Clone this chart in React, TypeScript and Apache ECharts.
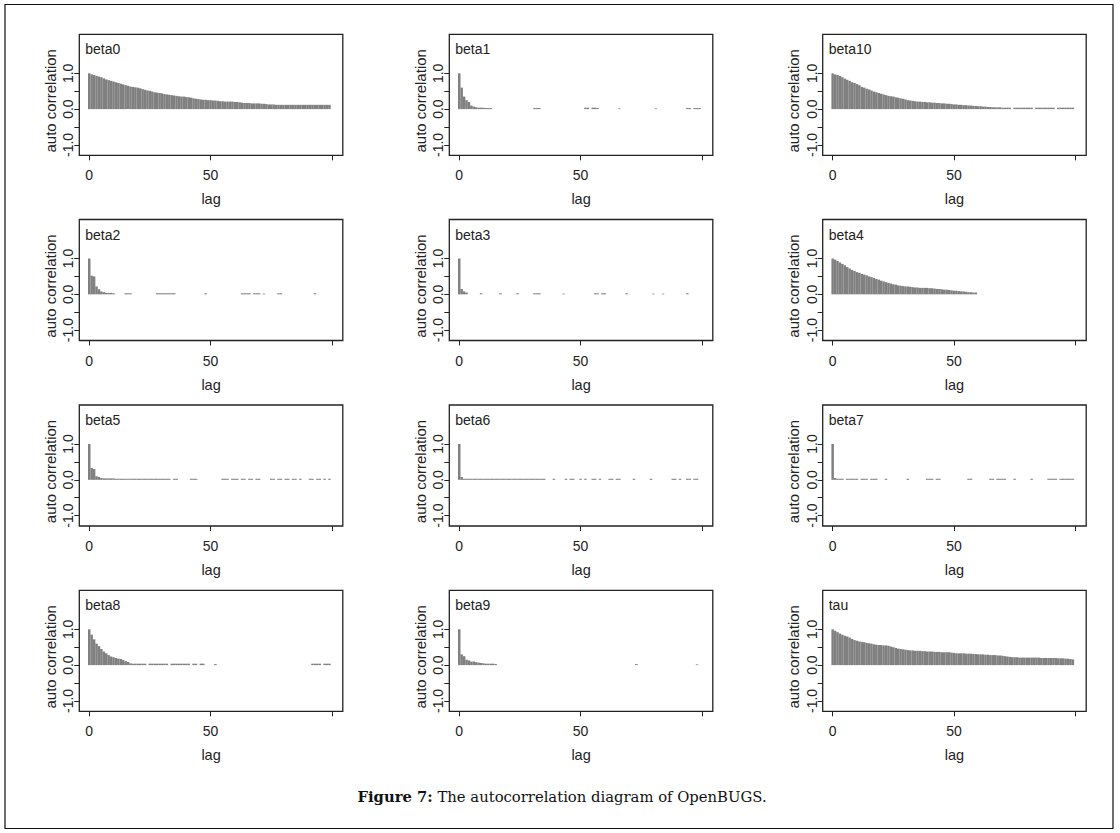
import React, { useEffect, useRef } from "react";
import * as echarts from "echarts";

// ---------------- data (lag 0..99) ----------------
const panelNames = ["beta0", "beta1", "beta10", "beta2", "beta3", "beta4", "beta5", "beta6", "beta7", "beta8", "beta9", "tau"];
const xTicks = [0, 50, 100];
const xTickLabels = [0, 50];
const yTicks = [-1, -0.5, 0, 0.5, 1];
const yTickLabels = [-1, 0, 1];
const xAxisName = "lag";
const yAxisName = "auto correlation";

const beta0 = [
  1.0, 0.97, 0.95, 0.93, 0.91, 0.89, 0.86, 0.83, 0.81, 0.79,
  0.77, 0.75, 0.73, 0.71, 0.69, 0.67, 0.65, 0.63, 0.62, 0.61,
  0.6, 0.58, 0.56, 0.54, 0.52, 0.51, 0.49, 0.47, 0.46, 0.45,
  0.44, 0.42, 0.41, 0.4, 0.39, 0.38, 0.37, 0.36, 0.35, 0.35,
  0.34, 0.33, 0.32, 0.3, 0.29, 0.28, 0.27, 0.26, 0.26, 0.25,
  0.25, 0.24, 0.24, 0.23, 0.22, 0.22, 0.21, 0.21, 0.21, 0.21,
  0.2, 0.2, 0.19, 0.18, 0.17, 0.17, 0.17, 0.16, 0.16, 0.16,
  0.16, 0.15, 0.15, 0.14, 0.13, 0.13, 0.13, 0.12, 0.12, 0.12,
  0.12, 0.12, 0.12, 0.12, 0.12, 0.12, 0.12, 0.12, 0.12, 0.12,
  0.12, 0.12, 0.12, 0.12, 0.12, 0.12, 0.12, 0.12, 0.12, 0.12,
];
const beta1 = [
  1.0, 0.6, 0.35, 0.25, 0.2, 0.1, 0.07, 0.05, 0.04, 0.04,
  0.04, 0.03, 0.03, 0.03, 0, 0, 0, 0, 0, 0,
  0, 0, 0, 0, 0, 0, 0, 0, 0, 0,
  0, 0.03, 0.03, 0.03, 0, 0, 0, 0, 0, 0,
  0, 0, 0, 0, 0, 0, 0, 0, 0, 0,
  0, 0, 0.04, 0.04, 0, 0.04, 0.04, 0.03, 0, 0,
  0, 0, 0, 0, 0, 0, 0.02, 0, 0, 0,
  0, 0, 0, 0, 0, 0, 0, 0, 0, 0,
  0, 0.02, 0, 0, 0, 0, 0, 0, 0, 0,
  0, 0, 0, 0, 0.03, 0.03, 0, 0.03, 0.03, 0.03,
];
const beta10 = [
  1.0, 0.97, 0.95, 0.93, 0.89, 0.85, 0.82, 0.79, 0.75, 0.73,
  0.7, 0.67, 0.62, 0.6, 0.57, 0.55, 0.52, 0.49, 0.47, 0.45,
  0.43, 0.41, 0.39, 0.37, 0.36, 0.35, 0.33, 0.32, 0.3, 0.29,
  0.27, 0.25, 0.24, 0.23, 0.22, 0.21, 0.21, 0.2, 0.2, 0.19,
  0.19, 0.18, 0.18, 0.17, 0.17, 0.16, 0.16, 0.15, 0.15, 0.14,
  0.13, 0.13, 0.12, 0.12, 0.11, 0.11, 0.1, 0.1, 0.09, 0.09,
  0.08, 0.08, 0.07, 0.07, 0.06, 0.06, 0.05, 0.05, 0.05, 0.05,
  0.04, 0.04, 0.04, 0.04, 0, 0.04, 0.04, 0.04, 0.04, 0.04,
  0.04, 0.04, 0.04, 0, 0.04, 0.04, 0.04, 0.04, 0.04, 0.04,
  0.04, 0.04, 0, 0.04, 0.04, 0.04, 0.04, 0.04, 0.04, 0.04,
];
const beta2 = [
  1.0, 0.52, 0.5, 0.22, 0.14, 0.08, 0.06, 0.04, 0.04, 0.04,
  0.03, 0, 0, 0, 0, 0.03, 0.03, 0.03, 0, 0,
  0, 0, 0, 0, 0, 0, 0, 0, 0.03, 0.03,
  0.03, 0.03, 0.03, 0.03, 0.03, 0.03, 0, 0, 0, 0,
  0, 0, 0, 0, 0, 0, 0, 0, 0.03, 0,
  0, 0, 0, 0, 0, 0, 0, 0, 0, 0,
  0, 0, 0, 0.03, 0.03, 0.03, 0.03, 0, 0.03, 0.03,
  0.03, 0, 0.02, 0, 0, 0, 0, 0, 0.03, 0.03,
  0, 0, 0, 0, 0, 0, 0, 0, 0, 0,
  0, 0, 0, 0.03, 0, 0, 0, 0, 0, 0,
];
const beta3 = [
  1.0, 0.15, 0.08, 0.05, 0, 0, 0, 0, 0, 0.03,
  0, 0, 0, 0, 0, 0, 0, 0.03, 0, 0,
  0, 0, 0, 0, 0.03, 0, 0, 0, 0, 0,
  0, 0.03, 0.03, 0.03, 0, 0, 0, 0, 0, 0,
  0, 0, 0, 0.02, 0, 0, 0, 0, 0, 0,
  0, 0, 0, 0, 0, 0, 0.03, 0.03, 0, 0.03,
  0.03, 0, 0, 0, 0, 0, 0, 0, 0, 0.03,
  0, 0, 0, 0, 0, 0, 0, 0, 0, 0,
  0.02, 0, 0, 0, 0.02, 0, 0, 0, 0, 0,
  0, 0, 0, 0, 0.03, 0, 0, 0, 0, 0,
];
const beta4 = [
  1.0, 0.97, 0.93, 0.89, 0.85, 0.81, 0.76, 0.72, 0.68, 0.65,
  0.62, 0.6, 0.57, 0.55, 0.53, 0.5, 0.48, 0.46, 0.43, 0.41,
  0.38, 0.36, 0.34, 0.32, 0.3, 0.28, 0.27, 0.25, 0.24, 0.23,
  0.22, 0.22, 0.21, 0.2, 0.19, 0.19, 0.18, 0.18, 0.18, 0.18,
  0.17, 0.17, 0.16, 0.15, 0.15, 0.14, 0.13, 0.13, 0.12, 0.11,
  0.1, 0.1, 0.09, 0.08, 0.08, 0.07, 0.06, 0.06, 0.05, 0.05,
  0, 0, 0, 0, 0, 0, 0, 0, 0, 0,
  0, 0, 0, 0, 0, 0, 0, 0, 0, 0,
  0, 0, 0, 0, 0, 0, 0, 0, 0, 0,
  0, 0, 0, 0, 0, 0, 0, 0, 0, 0,
];
const beta5 = [
  1.0, 0.33, 0.3, 0.1, 0.08, 0.05, 0.04, 0.04, 0.04, 0.04,
  0.04, 0.03, 0.03, 0.03, 0.03, 0.03, 0.03, 0.03, 0.03, 0.03,
  0.03, 0.03, 0.03, 0.03, 0.03, 0.03, 0.03, 0.03, 0.03, 0.03,
  0.03, 0.03, 0.03, 0.03, 0, 0.03, 0.03, 0, 0, 0,
  0, 0, 0.03, 0.03, 0.03, 0, 0, 0, 0, 0,
  0, 0, 0, 0, 0, 0.03, 0.03, 0.03, 0, 0.03,
  0.03, 0.03, 0, 0.03, 0.03, 0, 0.03, 0.03, 0, 0.03,
  0.03, 0, 0, 0, 0, 0.03, 0.03, 0, 0.03, 0.03,
  0, 0.03, 0.03, 0, 0.03, 0.03, 0, 0.03, 0, 0,
  0, 0.03, 0.03, 0, 0.03, 0.03, 0, 0.03, 0, 0.03,
];
const beta6 = [
  1.0, 0.08, 0.03, 0.03, 0.03, 0.03, 0.03, 0.03, 0.03, 0.03,
  0.03, 0.03, 0.03, 0.03, 0.03, 0.03, 0.03, 0.03, 0.03, 0.03,
  0.03, 0.03, 0.03, 0.03, 0.03, 0.03, 0.03, 0.03, 0.03, 0.03,
  0.03, 0.03, 0.03, 0.03, 0.03, 0.03, 0, 0, 0, 0.03,
  0, 0, 0, 0, 0.03, 0, 0.03, 0.03, 0, 0,
  0.03, 0, 0.03, 0, 0, 0.03, 0.03, 0, 0.03, 0,
  0, 0, 0.03, 0.03, 0, 0.03, 0.03, 0, 0, 0,
  0, 0, 0.03, 0, 0, 0, 0, 0, 0, 0.03,
  0, 0, 0, 0, 0, 0, 0, 0, 0.03, 0.03,
  0, 0.03, 0, 0, 0.03, 0.03, 0, 0.03, 0.03, 0,
];
const beta7 = [
  1.0, 0.05, 0.03, 0.03, 0.03, 0, 0.03, 0.03, 0.03, 0.03,
  0.03, 0, 0.03, 0.03, 0.03, 0, 0.03, 0.03, 0.03, 0,
  0, 0, 0.03, 0, 0, 0, 0, 0, 0, 0,
  0, 0.03, 0, 0, 0, 0, 0, 0, 0, 0.03,
  0.03, 0.03, 0, 0.03, 0.03, 0, 0, 0, 0, 0,
  0, 0, 0, 0, 0, 0, 0.03, 0.03, 0, 0,
  0, 0, 0, 0, 0, 0.03, 0.03, 0, 0.03, 0.03,
  0.03, 0.03, 0, 0, 0, 0.03, 0, 0, 0, 0,
  0, 0, 0.03, 0, 0, 0, 0, 0, 0, 0.03,
  0.03, 0.03, 0.03, 0, 0.03, 0.03, 0.03, 0.03, 0.03, 0.03,
];
const beta8 = [
  1.0, 0.85, 0.72, 0.6, 0.53, 0.45, 0.38, 0.33, 0.28, 0.24,
  0.22, 0.2, 0.18, 0.17, 0.14, 0.11, 0.09, 0.05, 0.04, 0.04,
  0.04, 0.04, 0.04, 0.04, 0, 0.04, 0.04, 0.04, 0.04, 0.04,
  0.04, 0.04, 0.04, 0, 0.04, 0.04, 0.04, 0.04, 0.04, 0.04,
  0.04, 0.04, 0, 0.04, 0.04, 0, 0.04, 0.04, 0, 0,
  0, 0, 0.03, 0, 0, 0, 0, 0, 0, 0,
  0, 0, 0, 0, 0, 0, 0, 0, 0, 0,
  0, 0, 0, 0, 0, 0, 0, 0, 0, 0,
  0, 0, 0, 0, 0, 0, 0, 0, 0, 0,
  0, 0, 0.04, 0.04, 0.04, 0.04, 0, 0.04, 0.04, 0.04,
];
const beta9 = [
  1.0, 0.3, 0.25, 0.15, 0.13, 0.1, 0.1, 0.08, 0.07, 0.06,
  0.05, 0.04, 0.04, 0.04, 0.04, 0.03, 0, 0, 0, 0,
  0, 0, 0, 0, 0, 0, 0, 0, 0, 0,
  0, 0, 0, 0, 0, 0, 0, 0, 0, 0,
  0, 0, 0, 0, 0, 0, 0, 0, 0, 0,
  0, 0, 0, 0, 0, 0, 0, 0, 0, 0,
  0, 0, 0, 0, 0, 0, 0, 0, 0, 0,
  0, 0, 0, 0.03, 0, 0, 0, 0, 0, 0,
  0, 0, 0, 0, 0, 0, 0, 0, 0, 0,
  0, 0, 0, 0, 0, 0, 0, 0, 0.02, 0,
];
const tau = [
  1.0, 0.96, 0.92, 0.88, 0.85, 0.82, 0.8, 0.77, 0.73, 0.7,
  0.68, 0.66, 0.65, 0.64, 0.62, 0.61, 0.6, 0.58, 0.57, 0.56,
  0.56, 0.55, 0.55, 0.54, 0.52, 0.5, 0.48, 0.46, 0.45, 0.44,
  0.43, 0.42, 0.41, 0.41, 0.4, 0.4, 0.4, 0.39, 0.39, 0.38,
  0.38, 0.38, 0.37, 0.37, 0.37, 0.36, 0.36, 0.36, 0.36, 0.35,
  0.34, 0.33, 0.33, 0.33, 0.33, 0.32, 0.32, 0.32, 0.31, 0.31,
  0.3, 0.3, 0.3, 0.29, 0.29, 0.28, 0.28, 0.28, 0.27, 0.27,
  0.26, 0.25, 0.24, 0.23, 0.22, 0.22, 0.22, 0.21, 0.21, 0.21,
  0.21, 0.21, 0.21, 0.21, 0.21, 0.21, 0.2, 0.2, 0.2, 0.2,
  0.2, 0.2, 0.2, 0.19, 0.19, 0.19, 0.18, 0.18, 0.17, 0.16,
];
const panelValues = [beta0, beta1, beta10, beta2, beta3, beta4, beta5, beta6, beta7, beta8, beta9, tau];
const captionBold = "Figure 7:";
const captionText = " The autocorrelation diagram of OpenBUGS.";

// ---------------- layout ----------------
const COL_LEFT = [79.3, 449.3, 822.7];
const ROW_TOP = [34.3, 219.5, 405, 590.3];
const BOX_W = 263.5;
const BOX_H = 121;
const SANS = "'Liberation Sans', Arial, sans-serif";
const SERIF = "'DejaVu Serif', serif";
const INK = "#222";
const BAR = "#808080";

function buildOption() {
  const grid: any[] = [];
  const xAxis: any[] = [];
  const yAxis: any[] = [];
  const series: any[] = [];
  const graphic: any[] = [];

  panelNames.forEach((name, i) => {
    const col = i % 3;
    const row = Math.floor(i / 3);
    const left = COL_LEFT[col];
    const top = ROW_TOP[row];
    grid.push({
      left, top, width: BOX_W, height: BOX_H,
      show: true, borderColor: INK, borderWidth: 1.3, backgroundColor: "transparent",
      containLabel: false,
    });
    xAxis.push({
      gridIndex: i, type: "value", min: -4.1, max: 104.5, position: "bottom",
      splitLine: { show: false },
      axisLine: { show: false, onZero: false },
      axisTick: { show: true, length: 5, customValues: xTicks, lineStyle: { color: INK, width: 1 } },
      axisLabel: { customValues: xTickLabels, fontSize: 14, fontFamily: SANS, color: INK, margin: 13 },
    });
    yAxis.push({
      gridIndex: i, type: "value", min: -1.29, max: 2.09, position: "left",
      splitLine: { show: false },
      axisLine: { show: false, onZero: false },
      axisTick: { show: true, length: 5, customValues: yTicks, lineStyle: { color: INK, width: 1 } },
      axisLabel: {
        customValues: yTickLabels, rotate: 90, fontSize: 14, fontFamily: SANS, color: INK, margin: 4,
        formatter: (v: number) => v.toFixed(1),
      },
    });
    series.push({
      type: "bar", xAxisIndex: i, yAxisIndex: i, barWidth: 2.5,
      itemStyle: { color: BAR },
      data: panelValues[i].map((v, lag) => [lag, v]),
    });
    graphic.push({
      type: "text", x: left + 6, y: top + 15,
      style: { text: name, fontSize: 14, fontFamily: SANS, fill: INK, align: "left", verticalAlign: "middle" },
    });
    graphic.push({
      type: "text", x: left - 29, y: top + BOX_H / 2 + 6, rotation: Math.PI / 2,
      style: { text: yAxisName, fontSize: 15, fontFamily: SANS, fill: INK, align: "center", verticalAlign: "middle" },
    });
    graphic.push({
      type: "text", x: left + BOX_W / 2, y: top + BOX_H + 44,
      style: { text: xAxisName, fontSize: 14.5, fontFamily: SANS, fill: INK, align: "center", verticalAlign: "middle" },
    });
  });

  graphic.push({
    type: "rect",
    shape: { x: 5, y: 4.5, width: 1108, height: 824 },
    style: { fill: "none", stroke: "#111", lineWidth: 1.2 },
  });
  graphic.push({
    type: "text", x: 562, y: 796,
    style: {
      text: "{b|" + captionBold + "}" + captionText,
      rich: { b: { fontWeight: "bold", fontFamily: SERIF, fontSize: 14.8, fill: "#111" } },
      fontFamily: SERIF, fontSize: 14.8, fill: "#111", align: "center", verticalAlign: "middle",
    },
  });

  return { animation: false, backgroundColor: "#fff", grid, xAxis, yAxis, series, graphic };
}

export default function App() {
  const ref = useRef<HTMLDivElement>(null);
  useEffect(() => {
    if (!ref.current) return;
    const chart = echarts.init(ref.current, undefined, { renderer: "svg" });
    chart.setOption(buildOption() as any);
    return () => chart.dispose();
  }, []);
  return (
    <div
      ref={ref}
      style={{ position: "fixed", left: 0, top: 0, width: 1120, height: 833, background: "#fff" }}
    />
  );
}
